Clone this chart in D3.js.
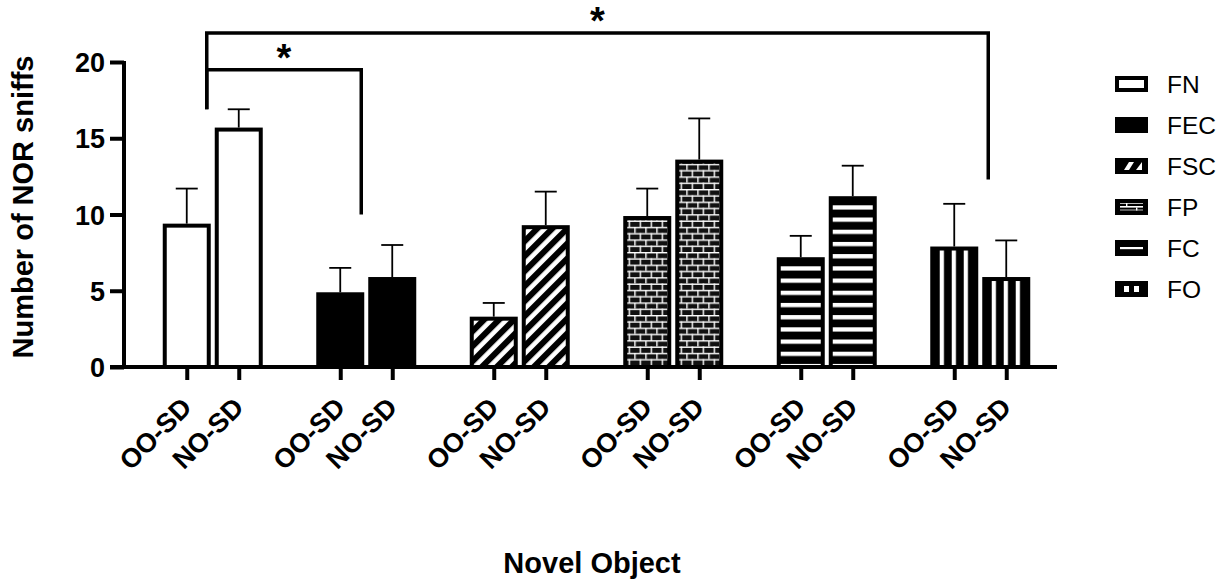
<!DOCTYPE html>
<html><head><meta charset="utf-8">
<script src="https://cdn.jsdelivr.net/npm/d3@7"></script>
<style>body{margin:0;background:#fff} svg{display:block}</style>
</head><body>
<svg id="chart" width="1227" height="583"></svg>
<script>
// ---- data ----
const groups = ['FN', 'FEC', 'FSC', 'FP', 'FC', 'FO'];
const conditions = ['OO-SD', 'NO-SD'];
const ooMeans = [9.4, 4.9, 3.3, 9.9, 7.2, 7.9];
const noMeans = [15.7, 5.9, 9.3, 13.6, 11.2, 5.9];
const ooSem = [2.3, 1.6, 0.9, 1.8, 1.4, 2.8];
const noSem = [1.2, 2.1, 2.2, 2.7, 2.0, 2.4];
const yTicks = [0, 5, 10, 15, 20];
const sigFrom = ['FN', 'FN'];
const sigTo = ['FEC', 'FO'];
const sigLevel = [19.5, 21.9];
const sigRightEnd = [10.0, 12.3];
const sigLeftEnd = 16.9;
const sigLabels = ['*', '*'];
const yTitle = 'Number of NOR sniffs';
const xTitle = 'Novel Object';

// ---- layout ----
const FONT = '"Liberation Sans", Arial, Helvetica, sans-serif';
const svg = d3.select('#chart');
const y = d3.scaleLinear().domain([0, 20]).range([367, 62]);
const x0 = d3.scaleBand().domain(groups).range([136, 1057]);
const bw = x0.bandwidth();
const x1 = d3.scaleBand().domain(conditions).range([bw / 2 - 52, bw / 2 + 52])
  .paddingInner(4 / 52).paddingOuter(2 / 52);
const barW = x1.bandwidth();

const data = [];
groups.forEach((g, i) => {
  data.push({ group: g, cond: 'OO-SD', mean: ooMeans[i], sem: ooSem[i] });
  data.push({ group: g, cond: 'NO-SD', mean: noMeans[i], sem: noSem[i] });
});

// ---- patterns ----
const defs = svg.append('defs');
const pd = defs.append('pattern').attr('id', 'diag').attr('patternUnits', 'userSpaceOnUse')
  .attr('width', 10.6).attr('height', 10.6).attr('patternTransform', 'rotate(45)');
pd.append('rect').attr('width', 10.6).attr('height', 10.6).attr('fill', '#fff');
pd.append('rect').attr('width', 6).attr('height', 10.6).attr('fill', '#000');

const pb = defs.append('pattern').attr('id', 'brick').attr('patternUnits', 'userSpaceOnUse')
  .attr('width', 11).attr('height', 12.6);
pb.append('rect').attr('width', 11).attr('height', 12.6).attr('fill', '#111');
pb.append('rect').attr('y', 0).attr('width', 11).attr('height', 1.4).attr('fill', '#fff');
pb.append('rect').attr('y', 6.3).attr('width', 11).attr('height', 1.4).attr('fill', '#fff');
pb.append('rect').attr('x', 0).attr('y', 0).attr('width', 1.4).attr('height', 6.3).attr('fill', '#fff');
pb.append('rect').attr('x', 5.5).attr('y', 6.3).attr('width', 1.4).attr('height', 6.3).attr('fill', '#fff');

const ph = defs.append('pattern').attr('id', 'hstripe').attr('patternUnits', 'userSpaceOnUse')
  .attr('y', 351.7).attr('width', 20).attr('height', 12.2);
ph.append('rect').attr('width', 20).attr('height', 12.2).attr('fill', '#000');
ph.append('rect').attr('width', 20).attr('height', 4.3).attr('fill', '#fff');

const pv = defs.append('pattern').attr('id', 'vstripe').attr('patternUnits', 'userSpaceOnUse')
  .attr('x', 9.5).attr('width', 12).attr('height', 20);
pv.append('rect').attr('width', 12).attr('height', 20).attr('fill', '#000');
pv.append('rect').attr('width', 4.2).attr('height', 20).attr('fill', '#fff');

const fills = { FN: '#fff', FEC: '#000', FSC: 'url(#diag)', FP: 'url(#brick)', FC: 'url(#hstripe)', FO: 'url(#vstripe)' };

// ---- bars ----
const bars = svg.append('g').selectAll('g').data(data).join('g')
  .attr('transform', d => `translate(${x0(d.group) + x1(d.cond)},0)`);
bars.append('rect')
  .attr('x', 2).attr('width', barW - 4)
  .attr('y', d => y(d.mean) + 2)
  .attr('height', d => y(0) - y(d.mean) - 2)
  .attr('fill', d => fills[d.group])
  .attr('stroke', '#000').attr('stroke-width', 4);
bars.append('line')
  .attr('x1', barW / 2).attr('x2', barW / 2)
  .attr('y1', d => y(d.mean)).attr('y2', d => y(d.mean + d.sem))
  .attr('stroke', '#000').attr('stroke-width', 1.8);
bars.append('line')
  .attr('x1', barW / 2 - 11).attr('x2', barW / 2 + 11)
  .attr('y1', d => y(d.mean + d.sem)).attr('y2', d => y(d.mean + d.sem))
  .attr('stroke', '#000').attr('stroke-width', 1.8);

// ---- y axis ----
const yAxis = svg.append('g').attr('transform', 'translate(124,0)')
  .call(d3.axisLeft(y).tickValues(yTicks).tickSize(14).tickSizeOuter(0).tickPadding(5));
yAxis.select('.domain').attr('stroke-width', 4).attr('d', `M0,${y(20) - 1}V${y(0) + 2}`);
yAxis.selectAll('.tick line').attr('stroke-width', 4);
yAxis.selectAll('.tick text').attr('font-family', FONT).attr('font-size', 27)
  .attr('font-weight', 'bold').attr('fill', '#000').attr('dy', '0.36em');

// ---- x axis ----
const barKeys = groups.flatMap(g => conditions.map(c => g + '|' + c));
const xBar = d3.scaleOrdinal().domain(barKeys)
  .range(barKeys.map(k => { const [g, c] = k.split('|'); return x0(g) + x1(c) + barW / 2; }));
svg.append('line').attr('x1', 110).attr('x2', 1057).attr('y1', y(0)).attr('y2', y(0))
  .attr('stroke', '#000').attr('stroke-width', 4);
const xAxis = svg.append('g').attr('transform', `translate(0,${y(0)})`)
  .call(d3.axisBottom(xBar).tickSize(13).tickFormat(k => k.split('|')[1]));
xAxis.select('.domain').remove();
xAxis.selectAll('.tick line').attr('stroke-width', 4);
xAxis.selectAll('.tick text')
  .attr('font-family', FONT).attr('font-size', 27).attr('font-weight', 'bold').attr('fill', '#000')
  .attr('text-anchor', 'end').attr('y', 0).attr('dy', 0)
  .attr('transform', 'translate(6,42) rotate(-45)');

// ---- titles ----
svg.append('text').attr('transform', 'translate(33,207) rotate(-90)')
  .attr('text-anchor', 'middle').attr('font-family', FONT).attr('font-size', 29)
  .attr('font-weight', 'bold').text(yTitle);
svg.append('text').attr('x', 592).attr('y', 573)
  .attr('text-anchor', 'middle').attr('font-family', FONT).attr('font-size', 29)
  .attr('font-weight', 'bold').text(xTitle);

// ---- significance brackets ----
const leftDx = -6;
const rightDx = { FEC: -5, FO: 8 };
sigFrom.forEach((f, i) => {
  const xl = x0(f) + bw / 2 + leftDx;
  const xr = x0(sigTo[i]) + bw / 2 + rightDx[sigTo[i]];
  svg.append('path')
    .attr('d', `M${xl},${y(sigLeftEnd)}V${y(sigLevel[i])}H${xr}V${y(sigRightEnd[i])}`)
    .attr('fill', 'none').attr('stroke', '#000').attr('stroke-width', 3.5);
  svg.append('text').attr('x', (xl + xr) / 2).attr('y', y(sigLevel[i]) + 1)
    .attr('text-anchor', 'middle').attr('font-family', FONT).attr('font-size', 38)
    .attr('font-weight', 'bold').text(sigLabels[i]);
});

// ---- legend ----
const legY = d3.scalePoint().domain(groups).range([84, 289]);
const lg = svg.append('g').selectAll('g').data(groups).join('g')
  .attr('transform', g => `translate(1115,${legY(g)})`);
lg.each(function (g) {
  const s = d3.select(this);
  if (g === 'FN') {
    s.append('rect').attr('x', 2).attr('y', -6).attr('width', 29).attr('height', 12)
      .attr('fill', '#fff').attr('stroke', '#000').attr('stroke-width', 4);
  } else {
    s.append('rect').attr('x', 0).attr('y', -8).attr('width', 33).attr('height', 16).attr('fill', '#000');
  }
  if (g === 'FSC') {
    s.append('polygon').attr('points', '9,4 14,4 19,-4 14,-4').attr('fill', '#fff');
    s.append('polygon').attr('points', '21,4 27,4 27,-4').attr('fill', '#fff');
  } else if (g === 'FP') {
    s.append('rect').attr('x', 5).attr('y', -1).attr('width', 23).attr('height', 1.6).attr('fill', '#fff');
    s.append('rect').attr('x', 5).attr('y', -4).attr('width', 23).attr('height', 1).attr('fill', '#bbb');
    s.append('rect').attr('x', 5).attr('y', 2.5).attr('width', 23).attr('height', 1).attr('fill', '#bbb');
    s.append('rect').attr('x', 11).attr('y', -4).attr('width', 1.4).attr('height', 3).attr('fill', '#fff');
    s.append('rect').attr('x', 21).attr('y', 0.5).attr('width', 1.4).attr('height', 3).attr('fill', '#fff');
  } else if (g === 'FC') {
    s.append('rect').attr('x', 5).attr('y', -1).attr('width', 23).attr('height', 2.2).attr('fill', '#fff');
  } else if (g === 'FO') {
    s.append('rect').attr('x', 9).attr('y', -3).attr('width', 5).attr('height', 6).attr('fill', '#fff');
    s.append('rect').attr('x', 19).attr('y', -3).attr('width', 5).attr('height', 6).attr('fill', '#fff');
  }
});
lg.append('text').attr('x', 52).attr('y', 8.6)
  .attr('font-family', FONT).attr('font-size', 24.5).attr('fill', '#000').text(g => g);
</script>
</body></html>
